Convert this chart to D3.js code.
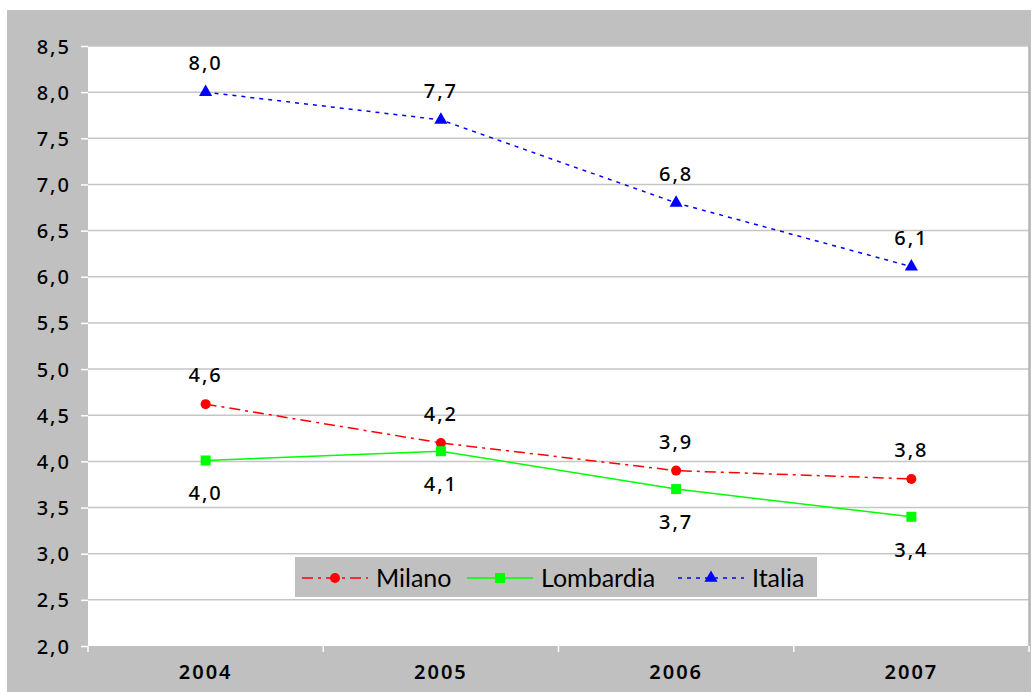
<!DOCTYPE html>
<html>
<head>
<meta charset="utf-8">
<script src="https://cdn.jsdelivr.net/npm/d3@7"></script>
<style>
  body { margin: 0; background: #fff; }
  text { font-family: "Noto Sans", "Liberation Sans", Arial, sans-serif; }
</style>
</head>
<body>
<svg id="chart" width="1031" height="692"></svg>
<script>
// data
const years = ["2004", "2005", "2006", "2007"];
const milano = [4.62, 4.2, 3.9, 3.81];
const lombardia = [4.01, 4.11, 3.7, 3.4];
const italia = [8.0, 7.7, 6.8, 6.11];
const yTicks = [2.0, 2.5, 3.0, 3.5, 4.0, 4.5, 5.0, 5.5, 6.0, 6.5, 7.0, 7.5, 8.0, 8.5];

const series = [
  { name: "Milano", values: milano, color: "#ff0000", dash: "11,5,3,5", marker: "circle", labelPos: "above" },
  { name: "Lombardia", values: lombardia, color: "#00ff00", dash: null, marker: "square", labelPos: "below" },
  { name: "Italia", values: italia, color: "#0000ff", dash: "4,5", marker: "triangle", labelPos: "above" }
];

const svg = d3.select("#chart");
const W = 1031, H = 692;
const plot = { left: 88, right: 1029, top: 46, bottom: 646 };

// outer gray frame
svg.append("rect")
  .attr("x", 7).attr("y", 10)
  .attr("width", W - 7).attr("height", H - 10)
  .attr("fill", "#c0c0c0");

svg.append("rect")
  .attr("x", plot.left).attr("y", plot.top)
  .attr("width", plot.right - plot.left).attr("height", plot.bottom - plot.top)
  .attr("fill", "#ffffff");

const x = d3.scaleBand().domain(years).range([plot.left, plot.right]);
const y = d3.scaleLinear().domain([2, 8.5]).range([plot.bottom, plot.top]);
const fmt = v => d3.format(".1f")(v).replace(".", ",");

// grid
svg.append("g").selectAll("line")
  .data(yTicks.slice(1))
  .enter().append("line")
  .attr("x1", plot.left).attr("x2", plot.right)
  .attr("y1", d => y(d)).attr("y2", d => y(d))
  .attr("stroke", "#c6c6c6")
  .attr("stroke-width", 1.5);

// right border of plot
svg.append("line")
  .attr("x1", plot.right).attr("x2", plot.right)
  .attr("y1", plot.top).attr("y2", plot.bottom)
  .attr("stroke", "#b4b4b4").attr("stroke-width", 1.5);

// y axis
const yAxis = svg.append("g")
  .attr("transform", `translate(${plot.left},0)`)
  .call(d3.axisLeft(y).tickValues(yTicks).tickFormat(fmt).tickSize(7).tickPadding(10));
yAxis.select(".domain").remove();
yAxis.selectAll(".tick line").attr("stroke", "#ffffff").attr("stroke-width", 1.5);
yAxis.selectAll(".tick text")
  .attr("fill", "#000")
  .style("font-size", "20px")
  .style("font-weight", "500")
  .style("letter-spacing", "2px")
  .attr("dy", "0.35em");

// x axis
const xAxis = svg.append("g")
  .attr("transform", `translate(0,${plot.bottom})`)
  .call(d3.axisBottom(x).tickSize(0).tickPadding(19));
xAxis.select(".domain").remove();
xAxis.selectAll(".tick text")
  .attr("fill", "#000")
  .style("font-size", "20px")
  .style("font-weight", "600")
  .style("letter-spacing", "2px");

// category boundary ticks
const bounds = years.map(d => x(d)).concat([x(years[years.length - 1]) + x.bandwidth()]);
svg.append("g").selectAll("line")
  .data(bounds)
  .enter().append("line")
  .attr("x1", d => d).attr("x2", d => d)
  .attr("y1", plot.bottom).attr("y2", plot.bottom + 6)
  .attr("stroke", "#ffffff").attr("stroke-width", 1.5);

const cx = d => x(d) + x.bandwidth() / 2;
const line = d3.line().x((v, i) => cx(years[i])).y(v => y(v));

function drawMarker(g, type, color, px, py) {
  if (type === "circle") {
    g.append("circle").attr("cx", px).attr("cy", py).attr("r", 5).attr("fill", color);
  } else if (type === "square") {
    g.append("rect").attr("x", px - 5).attr("y", py - 5).attr("width", 10).attr("height", 10).attr("fill", color);
  } else {
    g.append("path").attr("d", d3.symbol().type(d3.symbolTriangle).size(75)()).attr("transform", `translate(${px},${py})`).attr("fill", color);
  }
}

series.forEach(s => {
  const g = svg.append("g");
  g.append("path")
    .datum(s.values)
    .attr("d", line)
    .attr("fill", "none")
    .attr("stroke", s.color)
    .attr("stroke-width", 1.5)
    .attr("stroke-dasharray", s.dash);
  s.values.forEach((v, i) => {
    drawMarker(g, s.marker, s.color, cx(years[i]), y(v));
    g.append("text")
      .attr("x", cx(years[i]))
      .attr("y", s.labelPos === "above" ? y(v) - 22 : y(v) + 40)
      .attr("text-anchor", "middle")
      .style("font-size", "20px")
      .style("font-weight", "500")
      .style("letter-spacing", "2px")
      .text(fmt(v));
  });
});

// legend
const leg = svg.append("g");
leg.append("rect")
  .attr("x", 295).attr("y", 557)
  .attr("width", 522).attr("height", 40)
  .attr("fill", "#c0c0c0");
const legItems = [
  { s: series[0], x0: 302 },
  { s: series[1], x0: 467 },
  { s: series[2], x0: 678 }
];
legItems.forEach(it => {
  const ly = 578;
  leg.append("line")
    .attr("x1", it.x0).attr("x2", it.x0 + 66)
    .attr("y1", ly).attr("y2", ly)
    .attr("stroke", it.s.color).attr("stroke-width", 1.5)
    .attr("stroke-dasharray", it.s.dash);
  drawMarker(leg, it.s.marker, it.s.color, it.x0 + 33, ly);
  leg.append("text")
    .attr("x", it.x0 + 74)
    .attr("y", ly)
    .attr("dy", "0.35em")
    .style("font-size", "25px")
    .style("font-family", "Lato, sans-serif")
    .text(it.s.name);
});
</script>
</body>
</html>
